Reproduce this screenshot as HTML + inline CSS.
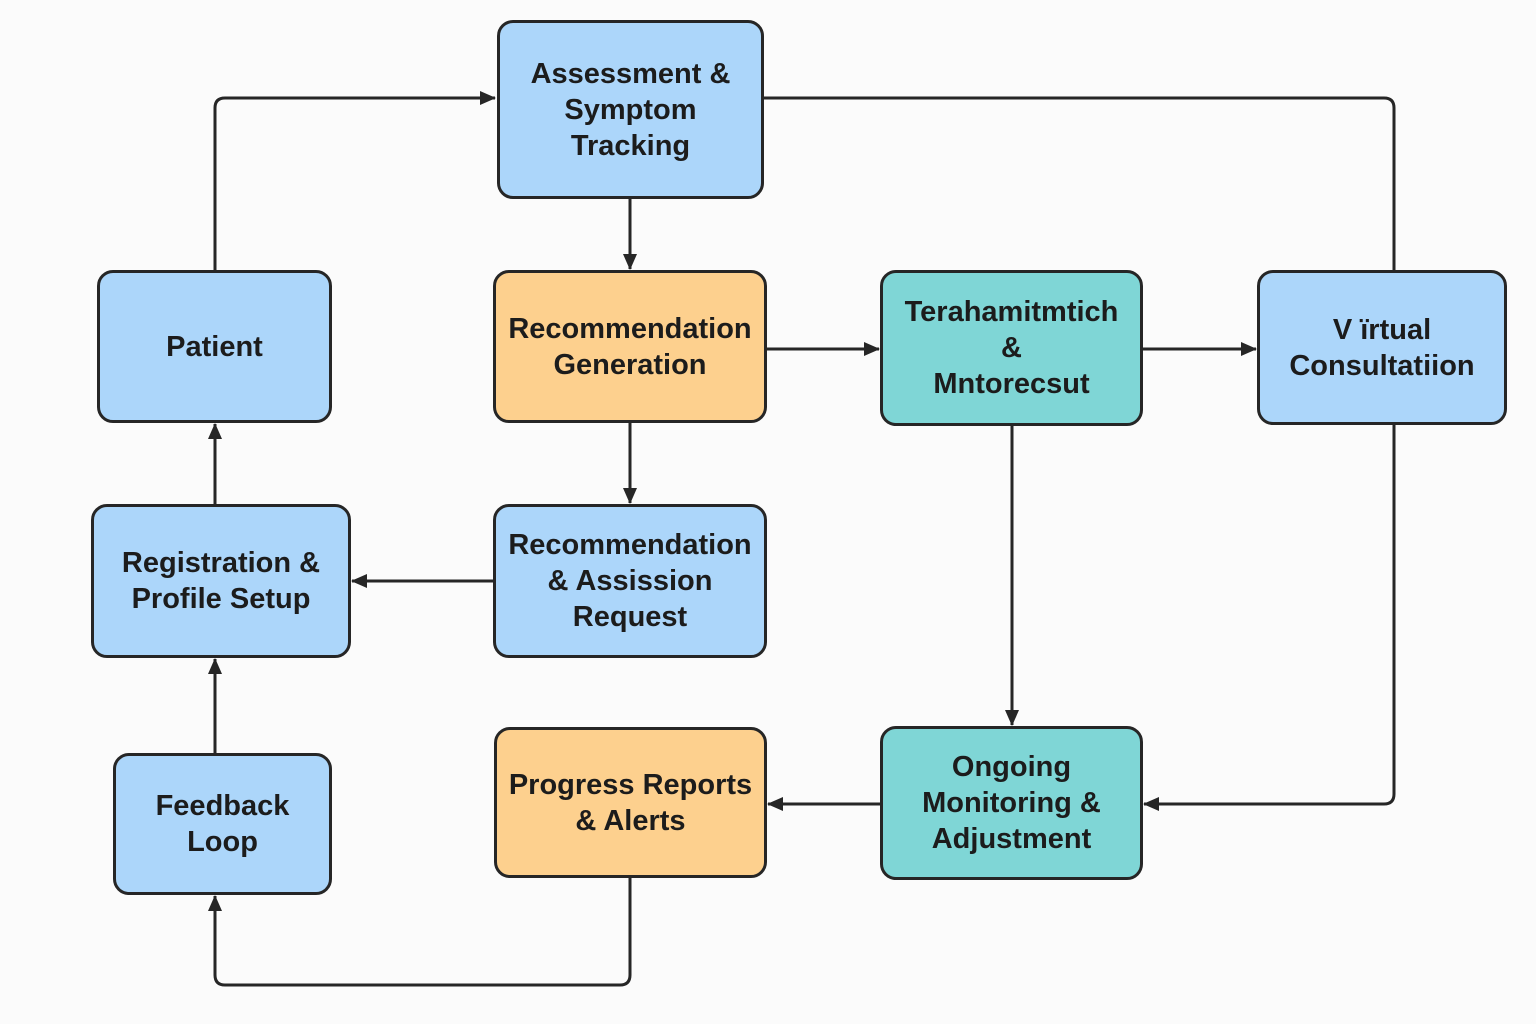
<!DOCTYPE html>
<html><head><meta charset="utf-8"><style>
html,body{margin:0;padding:0;background:#fbfbfb;}
.w{position:relative;width:1536px;height:1024px;overflow:hidden;font-family:"Liberation Sans",sans-serif;}
.b{position:absolute;box-sizing:border-box;border:3px solid #262626;border-radius:16px;display:flex;align-items:center;justify-content:center;text-align:center;font-size:29px;line-height:36px;color:#1c1c1c;font-weight:bold;}
.bl{background:#acd6fa}.or{background:#fdd08e}.te{background:#7fd6d6}
svg{position:absolute;left:0;top:0}
</style></head><body><div class="w">
<svg width="1536" height="1024"><defs><marker id="a" markerWidth="16" markerHeight="16" refX="15" refY="8" orient="auto" markerUnits="userSpaceOnUse"><path d="M0,1 L16,8 L0,15 z" fill="#262626"/></marker></defs>
<g fill="none" stroke="#262626" stroke-width="3" stroke-linejoin="round">
<path d="M215,270 V108 Q215,98 225,98 H495" marker-end="url(#a)"/>
<path d="M764,98 H1384 Q1394,98 1394,108 V270"/>
<path d="M630,199 V269" marker-end="url(#a)"/>
<path d="M767,349 H879" marker-end="url(#a)"/>
<path d="M1143,349 H1256" marker-end="url(#a)"/>
<path d="M630,423 V503" marker-end="url(#a)"/>
<path d="M493,581 H352" marker-end="url(#a)"/>
<path d="M215,504 V424" marker-end="url(#a)"/>
<path d="M215,753 V659" marker-end="url(#a)"/>
<path d="M1012,426 V725" marker-end="url(#a)"/>
<path d="M1394,425 V794 Q1394,804 1384,804 H1144" marker-end="url(#a)"/>
<path d="M880,804 H768" marker-end="url(#a)"/>
<path d="M630,878 V975 Q630,985 620,985 H225 Q215,985 215,975 V896" marker-end="url(#a)"/>
</g></svg>
<div class="b bl" style="left:497px;top:20px;width:267px;height:179px">Assessment &amp;<br>Symptom<br>Tracking</div>
<div class="b bl" style="left:97px;top:270px;width:235px;height:153px">Patient</div>
<div class="b or" style="left:493px;top:270px;width:274px;height:153px">Recommendation<br>Generation</div>
<div class="b te" style="left:880px;top:270px;width:263px;height:156px">Terahamitmtich<br>&amp;<br>Mntorecsut</div>
<div class="b bl" style="left:1257px;top:270px;width:250px;height:155px">V ïrtual<br>Consultatiion</div>
<div class="b bl" style="left:91px;top:504px;width:260px;height:154px">Registration &amp;<br>Profile Setup</div>
<div class="b bl" style="left:493px;top:504px;width:274px;height:154px">Recommendation<br>&amp; Assission<br>Request</div>
<div class="b bl" style="left:113px;top:753px;width:219px;height:142px">Feedback<br>Loop</div>
<div class="b or" style="left:494px;top:727px;width:273px;height:151px">Progress Reports<br>&amp; Alerts</div>
<div class="b te" style="left:880px;top:726px;width:263px;height:154px">Ongoing<br>Monitoring &amp;<br>Adjustment</div>
</div></body></html>
